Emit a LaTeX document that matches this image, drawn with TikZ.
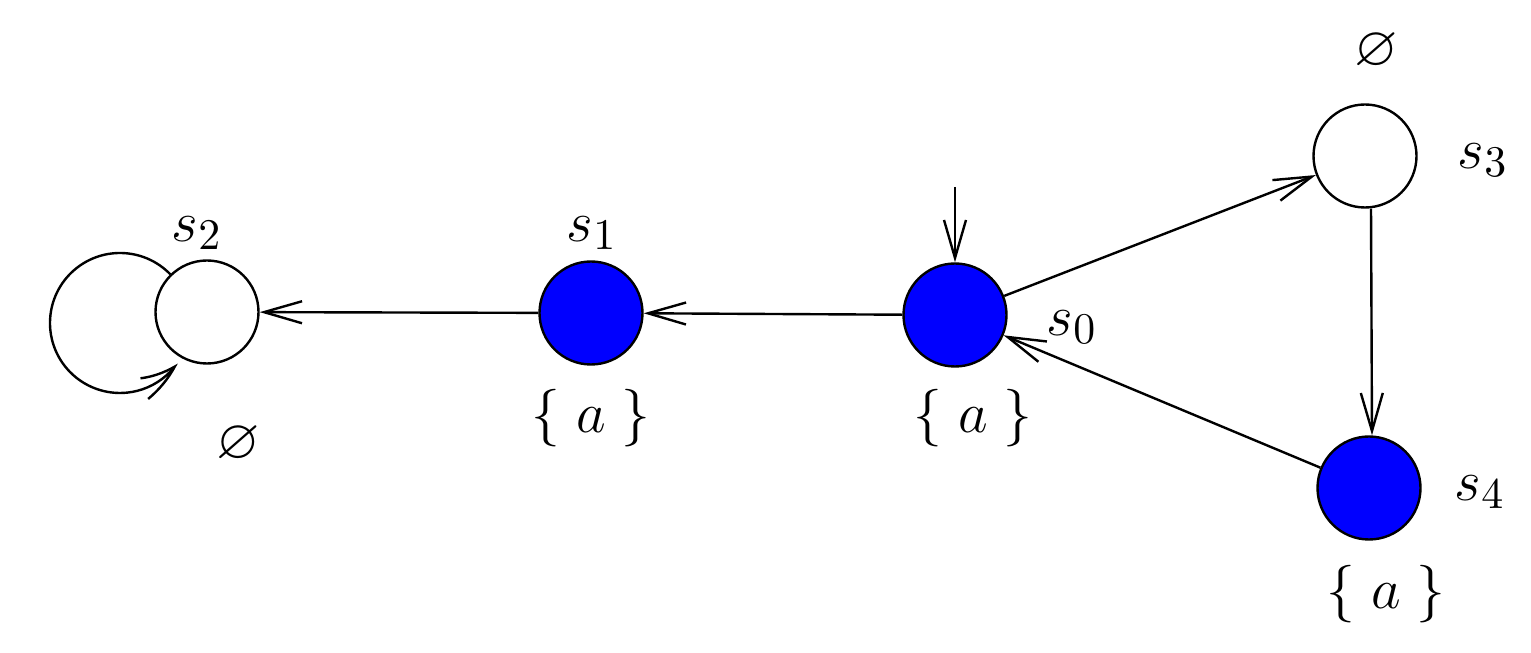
\documentclass[tikz,border=0pt]{standalone}
\usepackage{amssymb}
\usetikzlibrary{arrows.meta,bending}
\begin{document}
\begin{tikzpicture}[x=0.25pt,y=0.25pt,
  state/.style={circle,draw,line width=0.6pt,inner sep=0pt,minimum size=25.75pt},
  acc/.style={state,fill=blue},
  edge/.style={line width=0.6pt,-{Straight Barb[length=9.5pt,width=5.5pt,line width=0.6pt]}},
  loopedge/.style={line width=0.6pt,-{Straight Barb[length=9.5pt,width=5.5pt,line width=0.6pt,bend]}},
  slab/.style={font=\fontsize{15}{18}\selectfont},
  elab/.style={font=\fontsize{14}{17}\selectfont},
  alab/.style={font=\Large}]
\useasboundingbox (0,0) rectangle (1531,653);
\node[state] (s2) at (207,341) {};
\node[acc] (s1) at (591,340) {};
\node[acc] (s0) at (955,338) {};
\node[state] (s3) at (1365,497) {};
\node[acc] (s4) at (1369,165) {};
\coordinate (init) at (955,466);
\coordinate (lc) at (120,330);
\draw[edge] (init) -- (s0);
\draw[edge] (s0) -- (s1);
\draw[edge] (s1) -- (s2);
\draw[edge] (s0) -- (s3);
\draw[edge] ([xshift=1.5pt]s3.south) -- ([xshift=0.75pt]s4.north);
\draw[edge] (s4) -- (s0);
\draw[loopedge] ([shift={(44:17.5pt)}]lc) arc[start angle=44,end angle=325,radius=17.5pt];
\node[slab] (l2) at (197,420) {$s_2$};
\node[slab] (l1) at (592,420) {$s_1$};
\node[slab] (l0) at (1072,326) {$s_0$};
\node[slab] (l3) at (1483,493) {$s_3$};
\node[slab] (l4) at (1480,161) {$s_4$};
\node[elab] (e2) at (238,208) {$\varnothing$};
\node[elab] (e3) at (1376,601) {$\varnothing$};
\node[alab] (a1) at (591,235) {$\{\;a\;\}$};
\node[alab] (a0) at (973,235) {$\{\;a\;\}$};
\node[alab] (a4) at (1386,59) {$\{\;a\;\}$};
\end{tikzpicture}
\end{document}
